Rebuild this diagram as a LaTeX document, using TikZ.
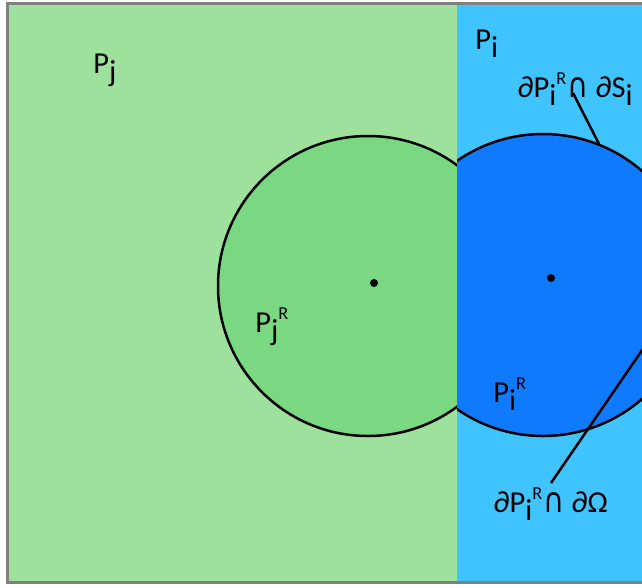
\documentclass[tikz,border=0pt]{standalone}
\usepackage{fontspec}
\setmainfont{Carlito}
\newfontfamily\symfont{DejaVu Sans}
\usetikzlibrary{positioning,calc}
\definecolor{lgreen}{RGB}{157,225,157}
\definecolor{dgreen}{RGB}{122,216,130}
\definecolor{lblue}{RGB}{64,196,255}
\definecolor{dblue}{RGB}{16,122,255}
\definecolor{frame}{RGB}{128,128,128}
\newcommand{\dn}[1]{\raisebox{-7.5pt}{#1}}
\newcommand{\up}[1]{\raisebox{11pt}{\resizebox{!}{10pt}{#1}}}
\newcommand{\capo}{\hspace{1pt}\resizebox{18pt}{17pt}{\symfont ∩}}

\begin{document}
\begin{tikzpicture}[x=0.3mm,y=-0.3mm,
        every node/.style={font=\fontsize{26}{30}\selectfont},
        lbl/.style={anchor=base west,inner sep=1pt},
        rim/.style={line width=0.75mm},
        leader/.style={line width=0.75mm}]
        \useasboundingbox (0,0) rectangle (642,587);
        \clip (0,0) rectangle (642,587);
        % the two parts
        \fill[lgreen] (7,3) rectangle (457,583);
        \fill[lblue] (457,3) rectangle (700,583);
        \begin{scope}
            \clip (0,0) rectangle (457,587);
            \fill[dgreen] (368,286) circle (150);
            \draw[rim] (368,286) circle (150);
        \end{scope}
        \begin{scope}
            \clip (457,0) rectangle (700,587);
            \fill[dblue] (543,285) circle (151);
            \draw[rim] (543,285) circle (151);
        \end{scope}
        \fill (374,283) circle (4);
        \fill (551,278) circle (4);
        \draw[frame, line width=0.9mm] (7.5,3.5) rectangle (700,582.5);
        % labels
        \node[lbl] (pj) at (92,73) {P\dn{j}};
        \node[lbl] (pi) at (474,49) {P\dn{i}};
        \node[lbl] (pjr) at (254,332) {P\dn{j}\up{R}};
        \node[lbl] (pir) at (492,402) {P\dn{i}\up{R}};
        \node[lbl] (si) at (516,97) {∂P\dn{i}\up{R}\capo{} ∂S\dn{i}};
        \node[lbl] (om) at (492,512) {∂P\dn{i}\up{R}\capo{} ∂Ω};
        % leaders
        \coordinate (si-end) at (599,144);
        \coordinate (om-end) at (660,324);
        \draw[leader] ($(si.base west)+(57,-4)$) -- (si-end);
        \draw[leader] ($(om.base west)+(59,-29)$) -- (om-end);
\end{tikzpicture}
\end{document}
